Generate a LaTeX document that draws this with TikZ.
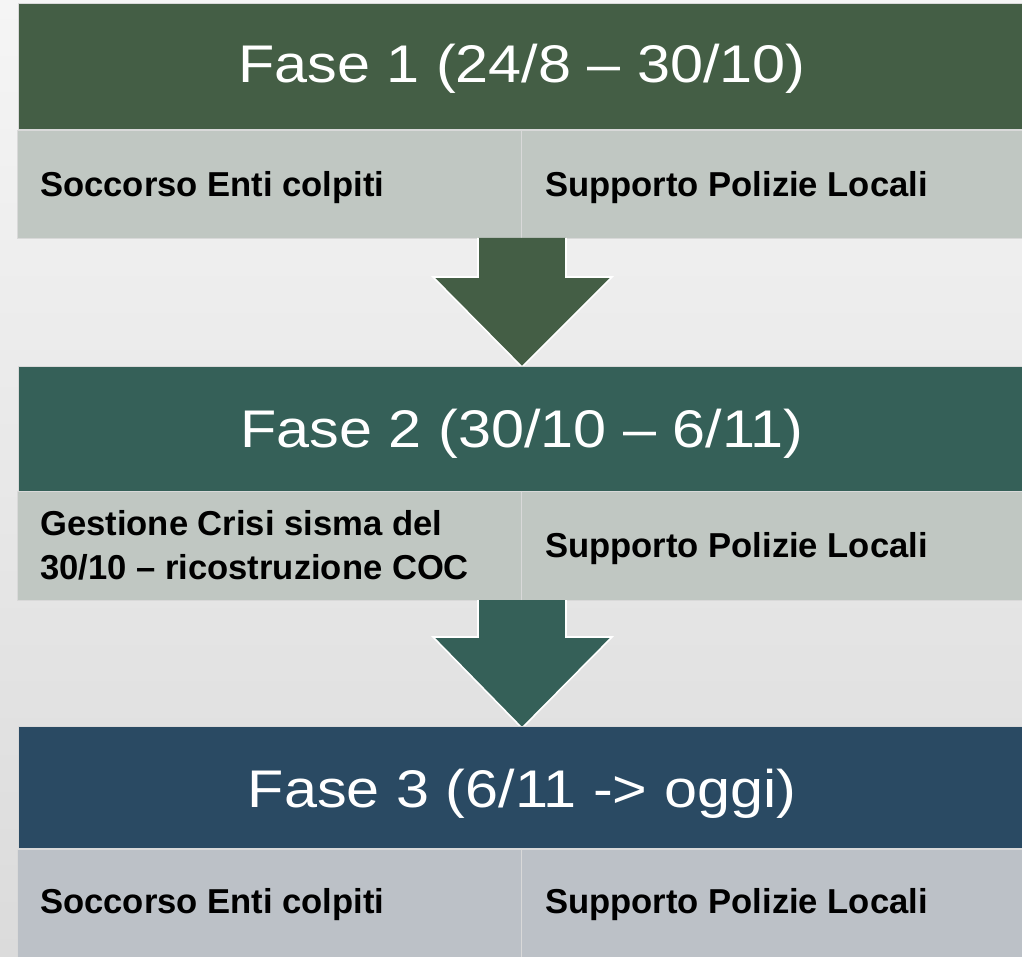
\documentclass[tikz,border=0pt]{standalone}
\usepackage{fontspec}
\setmainfont{Liberation Sans}
\newfontfamily\headfont[FakeStretch=1.12]{Liberation Sans}
\begin{document}
\begin{tikzpicture}[x=1pt,y=-1pt,
  head/.style={rectangle,anchor=north west,inner sep=0pt,minimum width=1010pt,draw=white!85!black,line width=0.8pt},
  headtext/.style={anchor=base,inner sep=0pt,text=white,font=\headfont\fontsize{53}{60}\selectfont},
  cell/.style={rectangle,anchor=north west,inner sep=0pt,draw=white!85!black,line width=1pt},
  celltext/.style={anchor=base west,inner sep=0pt,text=black,align=left,font=\bfseries\fontsize{34.6}{44}\selectfont},
  arrowshape/.style={draw=white,line width=1.6pt,line join=miter}]
\definecolor{hA}{HTML}{445E45}
\definecolor{hB}{HTML}{356058}
\definecolor{hC}{HTML}{2A4A63}
\definecolor{sA}{HTML}{C0C7C2}
\definecolor{sC}{HTML}{BCC1C7}
\definecolor{bgtop}{HTML}{F5F5F5}
\definecolor{bgbot}{HTML}{DBDBDB}
\useasboundingbox (0,0) rectangle (1022,957);
\clip (0,0) rectangle (1022,957);
\shade[top color=bgtop,bottom color=bgbot] (0,0) rectangle (1022,957);
% Phase 1
\node[head,fill=hA,minimum height=126pt] (h1) at (18,3) {};
\node[headtext] (t1) at (522,83) {Fase 1 (24/8 – 30/10)};
\node[cell,fill=sA,minimum width=504pt,minimum height=108pt] (c1l) at (17,130) {};
\node[cell,fill=sA,minimum width=510pt,minimum height=108pt] (c1r) at (521,130) {};
\node[celltext] (x1l) at (40,197) {Soccorso Enti colpiti};
\node[celltext] (x1r) at (545,197) {Supporto Polizie Locali};
% Arrow 1
\fill[hA,arrowshape] (478,238) -- (478,277) -- (433,277) -- (522,367) -- (612,277) -- (566,277) -- (566,238);
% Phase 2
\node[head,fill=hB,minimum height=125pt] (h2) at (18,366) {};
\node[headtext] (t2) at (522,447) {Fase 2 (30/10 – 6/11)};
\node[cell,fill=sA,minimum width=504pt,minimum height=109pt] (c2l) at (17,491) {};
\node[cell,fill=sA,minimum width=510pt,minimum height=109pt] (c2r) at (521,491) {};
\node[celltext] (x2l) at (40,579) {Gestione Crisi sisma del\\30/10 – ricostruzione COC};
\node[celltext] (x2r) at (545,557) {Supporto Polizie Locali};
% Arrow 2
\fill[hB,arrowshape] (478,600) -- (478,637) -- (433,637) -- (522,728) -- (612,637) -- (566,637) -- (566,600);
% Phase 3
\node[head,fill=hC,minimum height=122pt] (h3) at (18,726) {};
\node[headtext] (t3) at (522,807) {Fase 3 (6/11 -> oggi)};
\node[cell,fill=sC,minimum width=504pt,minimum height=112pt] (c3l) at (17,849) {};
\node[cell,fill=sC,minimum width=510pt,minimum height=112pt] (c3r) at (521,849) {};
\node[celltext] (x3l) at (40,913) {Soccorso Enti colpiti};
\node[celltext] (x3r) at (545,913) {Supporto Polizie Locali};
\end{tikzpicture}
\end{document}
